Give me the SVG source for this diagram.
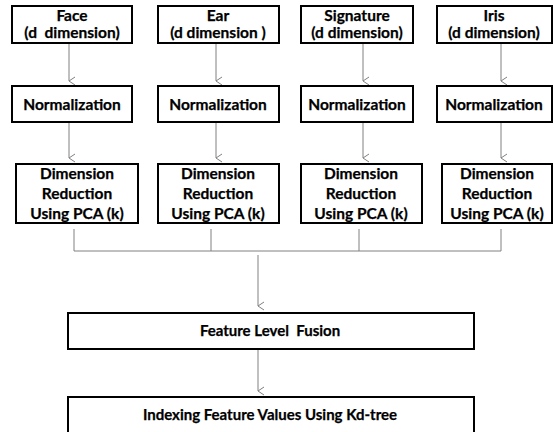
<svg xmlns="http://www.w3.org/2000/svg" width="554" height="432" viewBox="0 0 554 432">
<style>
.box{fill:#fff;stroke:#000;stroke-width:2}
.t{font-family:Lato,"Liberation Sans",sans-serif;font-weight:700;font-size:15.5px;fill:#000;text-anchor:middle;white-space:pre;stroke:#000;stroke-width:0.25}
.s{font-size:15px}
.c{fill:none;stroke:#808080;stroke-width:1}
</style>
<defs>
<marker id="ah" markerWidth="10" markerHeight="10" refX="5" refY="8" orient="auto" markerUnits="userSpaceOnUse" viewBox="0 0 10 10">
<path d="M1,2 L5,8 L9,2" fill="none" stroke="#808080" stroke-width="1"/>
</marker>
</defs>
<rect width="554" height="432" fill="#fff"/>
<g id="connectors">
<line class="c" x1="69" y1="43" x2="69" y2="81" marker-end="url(#ah)"/>
<line class="c" x1="216" y1="43" x2="216" y2="81" marker-end="url(#ah)"/>
<line class="c" x1="363" y1="43" x2="363" y2="81" marker-end="url(#ah)"/>
<line class="c" x1="501" y1="43" x2="501" y2="81" marker-end="url(#ah)"/>
<line class="c" x1="69" y1="122" x2="69" y2="158" marker-end="url(#ah)"/>
<line class="c" x1="216" y1="122" x2="216" y2="158" marker-end="url(#ah)"/>
<line class="c" x1="363" y1="122" x2="363" y2="158" marker-end="url(#ah)"/>
<line class="c" x1="501" y1="122" x2="501" y2="158" marker-end="url(#ah)"/>
<path class="c" d="M74,229 V251 H501 V229 M211,229 V251 M359,229 V251"/>
<line class="c" x1="258" y1="255" x2="258" y2="306" marker-end="url(#ah)"/>
<line class="c" x1="258" y1="349" x2="258" y2="391" marker-end="url(#ah)"/>
</g>
<g id="face">
<rect class="box" x="12" y="6" width="120" height="37"/>
<text class="t" x="72" y="21">Face</text>
<text class="t" x="72" y="38">(d  dimension)</text>
</g>
<g id="ear">
<rect class="box" x="158" y="6" width="121" height="37"/>
<text class="t" x="218" y="21">Ear</text>
<text class="t" x="218" y="38">(d dimension )</text>
</g>
<g id="signature">
<rect class="box" x="301" y="6" width="112" height="37"/>
<text class="t" x="357" y="21">Signature</text>
<text class="t" x="357" y="38">(d dimension)</text>
</g>
<g id="iris">
<rect class="box" x="437" y="6" width="115" height="37"/>
<text class="t" x="494" y="21">Iris</text>
<text class="t" x="494" y="38">(d dimension)</text>
</g>
<g id="norm-face">
<rect class="box" x="12" y="86" width="120" height="36"/>
<text class="t" x="72" y="110">Normalization</text>
</g>
<g id="norm-ear">
<rect class="box" x="158" y="86" width="121" height="36"/>
<text class="t" x="218" y="110">Normalization</text>
</g>
<g id="norm-signature">
<rect class="box" x="301" y="86" width="112" height="36"/>
<text class="t" x="357" y="110">Normalization</text>
</g>
<g id="norm-iris">
<rect class="box" x="437" y="86" width="115" height="36"/>
<text class="t" x="494" y="110">Normalization</text>
</g>
<g id="pca-face">
<rect class="box" x="16" y="164" width="122" height="59"/>
<text class="t" x="77" y="179">Dimension</text>
<text class="t" x="77" y="199">Reduction</text>
<text class="t" x="77" y="219">Using PCA (k)</text>
</g>
<g id="pca-ear">
<rect class="box" x="158" y="164" width="121" height="59"/>
<text class="t" x="218" y="179">Dimension</text>
<text class="t" x="218" y="199">Reduction</text>
<text class="t" x="218" y="219">Using PCA (k)</text>
</g>
<g id="pca-signature">
<rect class="box" x="301" y="164" width="121" height="59"/>
<text class="t" x="361" y="179">Dimension</text>
<text class="t" x="361" y="199">Reduction</text>
<text class="t" x="361" y="219">Using PCA (k)</text>
</g>
<g id="pca-iris">
<rect class="box" x="442" y="164" width="110" height="59"/>
<text class="t" x="497" y="179">Dimension</text>
<text class="t" x="497" y="199">Reduction</text>
<text class="t" x="497" y="219">Using PCA (k)</text>
</g>
<g id="fusion">
<rect class="box" x="68" y="313" width="406" height="36"/>
<text class="t s" x="270" y="336">Feature Level  Fusion</text>
</g>
<g id="indexing">
<rect class="box" x="68" y="397" width="406" height="44"/>
<text class="t s" x="270" y="420">Indexing Feature Values Using Kd-tree</text>
</g>
</svg>
